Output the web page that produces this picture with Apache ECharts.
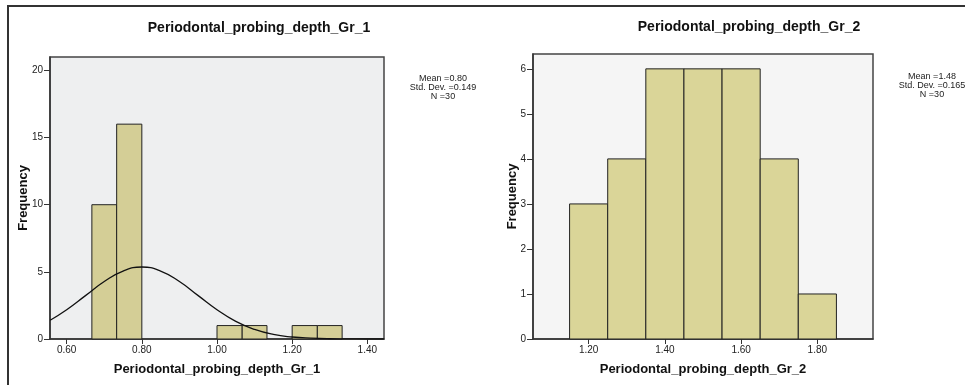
<!DOCTYPE html>
<html>
<head>
<meta charset="utf-8">
<script src="https://cdn.jsdelivr.net/npm/echarts@6/dist/echarts.min.js"></script>
<style>
  html, body { margin: 0; padding: 0; background: #fff; }
  #chart { width: 965px; height: 385px; }
</style>
</head>
<body>
<div id="chart"></div>
<script>
// Histogram 1: bin edges and counts
const bins1Start = [0.667, 0.733, 1.000, 1.067, 1.200, 1.267];
const bins1End   = [0.733, 0.800, 1.067, 1.133, 1.267, 1.333];
const counts1    = [10, 16, 1, 1, 1, 1];

// normal curve
const curve1X = [0.556, 0.60, 0.65, 0.70, 0.75, 0.80, 0.85, 0.90, 0.95, 1.00, 1.05, 1.10, 1.15, 1.20, 1.25, 1.30, 1.35, 1.40, 1.444];
const curve1Y = [1.40, 2.18, 3.23, 4.28, 5.06, 5.36, 5.06, 4.28, 3.23, 2.18, 1.31, 0.71, 0.34, 0.15, 0.06, 0.02, 0.01, 0.00, 0.00];

// Histogram 2
const bins2Start = [1.15, 1.25, 1.35, 1.45, 1.55, 1.65, 1.75];
const bins2End   = [1.25, 1.35, 1.45, 1.55, 1.65, 1.75, 1.85];
const counts2    = [3, 4, 6, 6, 6, 4, 1];

// tick labels
const xTicks1 = [0.60, 0.80, 1.00, 1.20, 1.40];
const yTicks1 = [0, 5, 10, 15, 20];
const xTicks2 = [1.20, 1.40, 1.60, 1.80];
const yTicks2 = [0, 1, 2, 3, 4, 5, 6];

const title1 = 'Periodontal_probing_depth_Gr_1';
const title2 = 'Periodontal_probing_depth_Gr_2';
const stats1 = ['Mean =0.80', 'Std. Dev. =0.149', 'N =30'];
const stats2 = ['Mean =1.48', 'Std. Dev. =0.165', 'N =30'];

const FONT = '"Liberation Sans", Arial, sans-serif';
const chart = echarts.init(document.getElementById('chart'));

function histData(starts, ends, counts) {
  return counts.map((c, i) => [starts[i], ends[i], c]);
}

function renderBar(color) {
  return function (params, api) {
    const p0 = api.coord([api.value(0), 0]);
    const p1 = api.coord([api.value(1), api.value(2)]);
    return {
      type: 'rect',
      shape: { x: p0[0], y: p1[1], width: p1[0] - p0[0], height: p0[1] - p1[1] },
      style: { fill: color, stroke: '#222', lineWidth: 1 }
    };
  };
}

function xAxisOf(gridIndex, min, max, ticks) {
  return {
    type: 'value', gridIndex, min, max,
    name: gridIndex === 0 ? title1 : title2,
    nameLocation: 'middle', nameGap: 24, nameMoveOverlap: false,
    nameTextStyle: { fontFamily: FONT, fontSize: 13, fontWeight: 'bold', color: '#111' },
    axisLine: { show: true, lineStyle: { color: '#333', width: 1.5 } },
    axisTick: { show: true, length: 5, customValues: ticks, lineStyle: { color: '#333' } },
    axisLabel: {
      customValues: ticks, margin: 6,
      fontFamily: FONT, fontSize: 10, color: '#222',
      formatter: v => v.toFixed(2)
    },
    splitLine: { show: false }
  };
}

function yAxisOf(gridIndex, max, ticks, gap) {
  return {
    type: 'value', gridIndex, min: 0, max,
    name: 'Frequency',
    nameLocation: 'middle', nameGap: gap, nameMoveOverlap: false,
    nameTextStyle: { fontFamily: FONT, fontSize: 13, fontWeight: 'bold', color: '#111' },
    axisLine: { show: true, lineStyle: { color: '#333', width: 1.5 } },
    axisTick: { show: true, length: 6, customValues: ticks, lineStyle: { color: '#333' } },
    axisLabel: { customValues: ticks, margin: 7, fontFamily: FONT, fontSize: 10, color: '#222' },
    splitLine: { show: false }
  };
}

function statsText(x, y, lines) {
  return {
    type: 'text', x: x, y: y,
    style: {
      text: lines.join('\n'),
      fill: '#222', font: '9px ' + FONT, lineHeight: 9,
      align: 'center', verticalAlign: 'top'
    }
  };
}

chart.setOption({
  animation: false,
  backgroundColor: '#fff',
  title: [
    { text: title1, left: 254, top: 16, textAlign: 'center',
      textStyle: { fontFamily: FONT, fontSize: 14, fontWeight: 'bold', color: '#111' } },
    { text: title2, left: 744, top: 15, textAlign: 'center',
      textStyle: { fontFamily: FONT, fontSize: 14, fontWeight: 'bold', color: '#111' } }
  ],
  grid: [
    { left: 50, top: 57, width: 334, height: 282, show: true,
      backgroundColor: '#eeeff0', borderColor: '#444', borderWidth: 1.5 },
    { left: 533, top: 54, width: 340, height: 285, show: true,
      backgroundColor: '#f5f5f5', borderColor: '#444', borderWidth: 1.5 }
  ],
  xAxis: [
    xAxisOf(0, 0.5556, 1.4444, xTicks1),
    xAxisOf(1, 1.054, 1.946, xTicks2)
  ],
  yAxis: [
    yAxisOf(0, 21, yTicks1, 20),
    yAxisOf(1, 6.33, yTicks2, 14)
  ],
  series: [
    {
      type: 'custom', xAxisIndex: 0, yAxisIndex: 0,
      renderItem: renderBar('#d4ce96'),
      encode: { x: [0, 1], y: 2 },
      data: histData(bins1Start, bins1End, counts1)
    },
    {
      type: 'line', xAxisIndex: 0, yAxisIndex: 0,
      data: curve1X.map((x, i) => [x, curve1Y[i]]),
      smooth: true, showSymbol: false, symbol: 'none',
      lineStyle: { color: '#111', width: 1.3 }, z: 5
    },
    {
      type: 'custom', xAxisIndex: 1, yAxisIndex: 1,
      renderItem: renderBar('#dad598'),
      encode: { x: [0, 1], y: 2 },
      data: histData(bins2Start, bins2End, counts2)
    }
  ],
  graphic: [
    statsText(443, 74, stats1),
    statsText(932, 72, stats2),
    { type: 'polyline', shape: { points: [[8, 390], [8, 6], [970, 6]] },
      style: { stroke: '#333', lineWidth: 2, fill: null } }
  ]
});
</script>
</body>
</html>
